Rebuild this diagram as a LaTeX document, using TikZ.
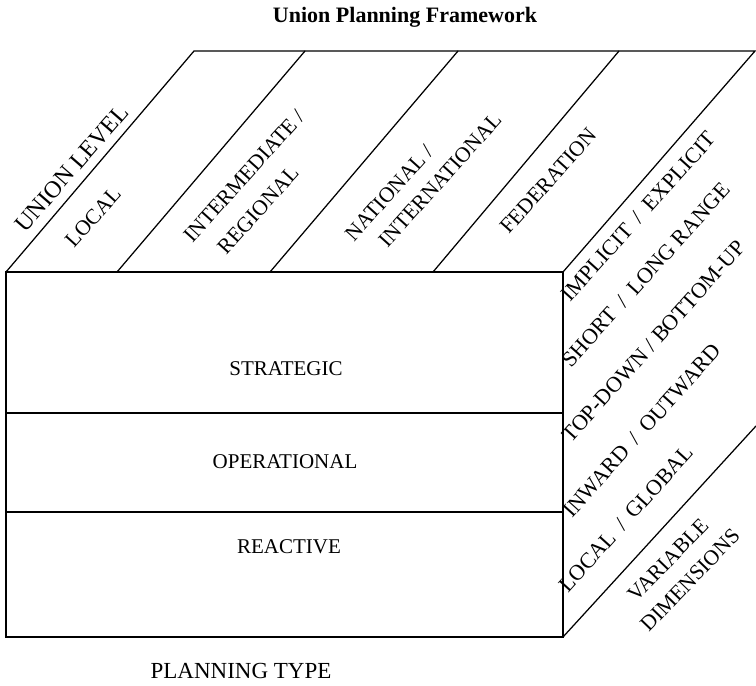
\documentclass[tikz,border=0pt]{standalone}
\usepackage{fontspec}
\setmainfont{Liberation Serif}
\newcommand{\myslash}{\hspace{0.45em}/\hspace{0.45em}}
\begin{document}
\begin{tikzpicture}[x=1pt,y=-1pt,line width=1.25pt,line cap=round,line join=miter,
  lab/.style={font=\fontsize{21}{23}\selectfont,inner sep=0pt},
  toplab/.style={font=\fontsize{21.5}{23}\selectfont,inner sep=0pt,rotate=48},
  sidelab/.style={font=\fontsize{22}{24}\selectfont,inner sep=0pt,rotate=48,anchor=base west}]
\useasboundingbox (0,0) rectangle (756,686);
% cube corners
\coordinate (FTL) at (6,272);
\coordinate (FTR) at (563,272);
\coordinate (FBL) at (6,637);
\coordinate (FBR) at (563,637);
\coordinate (BTL) at (194,51);
\coordinate (BTR) at (755,51);
\coordinate (BBR) at (756,426);
% front face
\draw (FTL) rectangle (FBR);
\coordinate (D1L) at (6,413); \coordinate (D1R) at (563,413);
\coordinate (D2L) at (6,512); \coordinate (D2R) at (563,512);
\draw (D1L) -- (D1R);
\draw (D2L) -- (D2R);
% top face
\draw (FTL) -- (BTL) -- (BTR) -- (FTR);
\coordinate (T1a) at (117,272); \coordinate (T1b) at (305,51);
\coordinate (T2a) at (270,272); \coordinate (T2b) at (458,51);
\coordinate (T3a) at (433,272); \coordinate (T3b) at (619,51);
\draw (T1a) -- (T1b);
\draw (T2a) -- (T2b);
\draw (T3a) -- (T3b);
% right face
\draw (FBR) -- (BBR);
% title
\node[lab,font=\fontsize{22}{24}\selectfont\bfseries] (title) at (405,17) {Union Planning Framework};
% front labels
\node[lab] (strat) at (286,369) {STRATEGIC};
\node[lab] (oper) at (285,462) {OPERATIONAL};
\node[lab] (react) at (289,547) {REACTIVE};
\node[lab,font=\fontsize{23}{25}\selectfont] (ptype) at (241,671) {PLANNING TYPE};
% top labels
\node[toplab,font=\fontsize{24}{26}\selectfont,rotate=1] (ulevel) at (72,168) {UNION LEVEL};
\node[toplab] (local) at (93,217) {LOCAL};
\node[toplab] (inter1) at (244,176) {INTERMEDIATE /};
\node[toplab] (inter2) at (258,210) {REGIONAL};
\node[toplab] (nat1) at (389,193) {NATIONAL /};
\node[toplab] (nat2) at (440,180) {INTERNATIONAL};
\node[toplab] (fed) at (548,181) {FEDERATION};
% right side labels
\node[sidelab] (impl) at (570,303) {IMPLICIT\myslash EXPLICIT};
\node[sidelab] (short) at (571,369) {SHORT\myslash LONG RANGE};
\node[sidelab] (topdown) at (571,444) {TOP-DOWN / BOTTOM-UP};
\node[sidelab] (inward) at (572,519) {INWARD\myslash OUTWARD};
\node[sidelab] (locglob) at (568,594) {LOCAL\myslash GLOBAL};
\node[toplab,rotate=-2] (var1) at (668,560) {VARIABLE};
\node[toplab,rotate=-2] (var2) at (690,580) {DIMENSIONS};
\end{tikzpicture}
\end{document}
